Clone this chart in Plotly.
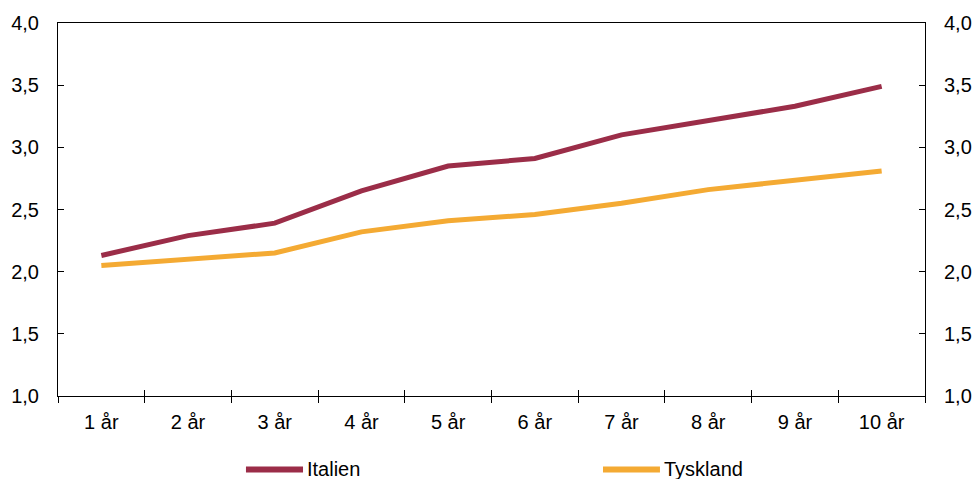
import plotly.graph_objects as go

categories = ["1 år", "2 år", "3 år", "4 år", "5 år", "6 år", "7 år", "8 år", "9 år", "10 år"]
italien = [2.13, 2.29, 2.39, 2.65, 2.85, 2.91, 3.10, 3.22, 3.33, 3.49]
tyskland = [2.05, 2.10, 2.15, 2.32, 2.41, 2.46, 2.55, 2.66, 2.73, 2.81]
y_ticks = [1.0, 1.5, 2.0, 2.5, 3.0, 3.5, 4.0]
series_names = ["Italien", "Tyskland"]
series_colors = ["#9B2D48", "#F4AA33"]

FONT = "Liberation Sans, Arial, sans-serif"
FS = 20

fig = go.Figure()
for name, vals, col in zip(series_names, [italien, tyskland], series_colors):
    fig.add_trace(go.Scatter(x=categories, y=vals, mode="lines", name=name,
                             line=dict(color=col, width=5), showlegend=False))

# invisible helper trace so the mirrored right axis and inner x ticks are drawn
fig.add_trace(go.Scatter(x=list(range(len(categories))), y=italien, xaxis="x2", yaxis="y2",
                         mode="lines", line=dict(width=0), opacity=0,
                         hoverinfo="skip", showlegend=False))

# manual legend (line sample + label) below the plot
legend_x = [(0.2168, 0.2826), (0.6286, 0.6943)]
legend_y = -0.197
for (x0, x1), name, col in zip(legend_x, series_names, series_colors):
    fig.add_shape(type="line", xref="paper", yref="paper", x0=x0, x1=x1,
                  y0=legend_y, y1=legend_y, line=dict(color=col, width=6))
    fig.add_annotation(xref="paper", yref="paper", x=x1 + 0.002, y=legend_y,
                       xanchor="left", yanchor="middle", text=name, showarrow=False,
                       font=dict(family=FONT, size=FS, color="#000000"))

axis_common = dict(showgrid=False, zeroline=False, tickcolor="#000000", tickwidth=1,
                   automargin=False)

fig.update_layout(
    width=977, height=479,
    margin=dict(l=58, r=52, t=23, b=83),
    paper_bgcolor="white", plot_bgcolor="white",
    separators=", ",
    font=dict(family=FONT, size=FS, color="#000000"),
    xaxis=dict(type="category", showline=True, linecolor="#000000", linewidth=1, mirror=True,
               ticks="outside", ticklen=6, tickson="boundaries", ticklabelstandoff=8,
               range=[-0.5, 9.5], tickfont=dict(size=FS), **axis_common),
    xaxis2=dict(overlaying="x", anchor="y", side="bottom", range=[-0.5, 9.5],
                tickvals=[i + 0.5 for i in range(-1, 10)], showticklabels=False,
                ticks="inside", ticklen=6, showline=False, **axis_common),
    yaxis=dict(range=[1.0, 4.0], tickvals=y_ticks, tickformat=".1f",
               showline=True, linecolor="#000000", linewidth=1,
               ticks="inside", ticklen=6, ticklabelstandoff=14,
               tickfont=dict(size=FS), **axis_common),
    yaxis2=dict(overlaying="y", side="right", anchor="x2", range=[1.0, 4.0],
                tickvals=y_ticks, tickformat=".1f",
                showline=True, linecolor="#000000", linewidth=1,
                ticks="inside", ticklen=6, ticklabelstandoff=14,
                tickfont=dict(size=FS), **axis_common),
)

fig.write_html("out.html")
